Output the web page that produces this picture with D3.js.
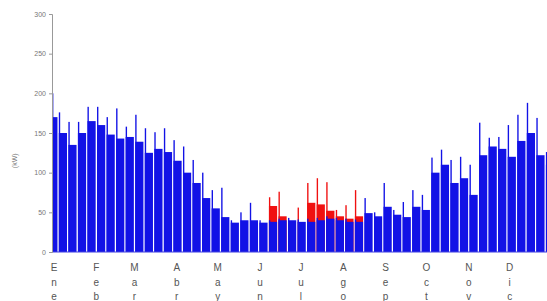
<!DOCTYPE html>
<html>
<head>
<meta charset="utf-8">
<script src="https://cdn.jsdelivr.net/npm/d3@7"></script>
<style>
  body { margin: 0; background: #fff; }
  svg { display: block; }
</style>
</head>
<body>
<div id="chart"></div>
<script>
let width = 547;
let height = 301;
let margins = { top: 14, right: -3, bottom: 49, left: 52 };

// weekly blocks Mon..Sat (Sunday is a gap), week 0 starts Mon 30 Dec
let weekPeak = [200, 176, 164, 164, 183, 183, 170, 181, 158, 173, 156, 151, 156, 141,
    133, 116, 100, 78, 81, 40, 50, 62, 40, 40, 42, 43, 41, 42, 43, 45, 43, 42, 41,
    68, 50, 87, 53, 63, 78, 72, 119, 129, 116, 120, 110, 163, 144, 145, 160, 173, 188, 169, 126];
let weekBody = [170, 150, 135, 150, 165, 160, 148, 143, 145, 139, 125, 130, 126, 115,
    100, 87, 68, 55, 44, 37, 40, 40, 37, 38, 40, 40, 38, 38, 40, 42, 40, 38, 38,
    49, 45, 57, 47, 44, 57, 53, 100, 110, 87, 93, 72, 122, 133, 130, 120, 140, 150, 122, 110];
// summer extra load (red)
let redPeak = [0, 0, 0, 0, 0, 0, 0, 0, 0, 0, 0, 0, 0, 0, 0, 0, 0, 0, 0, 0, 0, 0, 0,
    69, 76, 0, 56, 87, 93, 88, 53, 59, 78, 0, 0, 0, 0, 0, 0, 0, 0, 0, 0, 0, 0, 0, 0, 0, 0, 0, 0, 0, 0];
let redBody = [0, 0, 0, 0, 0, 0, 0, 0, 0, 0, 0, 0, 0, 0, 0, 0, 0, 0, 0, 0, 0, 0, 0,
    58, 45, 0, 0, 62, 60, 52, 45, 42, 45, 0, 0, 0, 0, 0, 0, 0, 0, 0, 0, 0, 0, 0, 0, 0, 0, 0, 0, 0, 0];
let months = ["Ene", "Feb", "Mar", "Abr", "May", "Jun", "Jul", "Ago", "Sep", "Oct", "Nov", "Dic"];
let yTicks = [0, 50, 100, 150, 200, 250, 300];

let start = new Date(2014, 0, 1);
let end = new Date(2015, 0, 1);
let firstMonday = new Date(2013, 11, 30);

let svg = d3.select("#chart")
    .append('svg')
    .attr('width', width)
    .attr('height', height);

var x = d3.scaleTime()
    .domain([start, end])
    .range([margins.left, width - margins.right]);
var y = d3.scaleLinear()
    .domain([0, 300])
    .range([height - margins.bottom, margins.top]);

let weeks = weekPeak.map((p, i) => {
    let mon = d3.timeDay.offset(firstMonday, 7 * i);
    let sun = d3.timeDay.offset(mon, 6);
    let s = mon < start ? start : mon;
    let e = sun > end ? end : sun;
    return { s: s, e: e, peak: p, body: weekBody[i], rPeak: redPeak[i], rBody: redBody[i] };
});

let plot = svg.append('g').attr('class', 'bars');

function drawBlocks(cls, color, bodyKey, peakKey) {
    let g = plot.append('g').attr('class', cls);
    let w = weeks.filter(d => d[peakKey] > 0);
    g.selectAll('rect.body').data(w)
        .enter()
        .append('rect')
        .attr('class', 'body')
        .attr('x', d => x(d.s))
        .attr('width', d => Math.max(0, x(d.e) - x(d.s)))
        .attr('y', d => y(d[bodyKey]))
        .attr('height', d => y(0) - y(d[bodyKey]))
        .style('fill', color);
    g.selectAll('rect.peak').data(w)
        .enter()
        .append('rect')
        .attr('class', 'peak')
        .attr('x', d => x(d.s))
        .attr('width', d => x(d3.timeDay.offset(d.s, 1)) - x(d.s))
        .attr('y', d => y(d[peakKey]))
        .attr('height', d => y(0) - y(d[peakKey]))
        .style('fill', color);
}

drawBlocks('red', '#f01010', 'rBody', 'rPeak');
drawBlocks('blue', '#1212e6', 'body', 'peak');

// baseline
svg.append('line')
    .attr('x1', margins.left).attr('x2', width)
    .attr('y1', y(0)).attr('y2', y(0))
    .style('stroke', '#4040e0')
    .style('stroke-width', 1);

// y axis
let yAxis = svg.append('g')
    .attr('class', 'yaxis axis')
    .attr('transform', 'translate(' + margins.left + ',0)')
    .call(d3.axisLeft(y).tickValues(yTicks).tickSize(3).tickPadding(3));
yAxis.select('.domain').style('stroke', '#999');
yAxis.selectAll('.tick line').style('stroke', '#999');
yAxis.selectAll('.tick text')
    .style('font-family', 'Arial, "Liberation Sans", sans-serif')
    .style('font-size', '7px')
    .style('fill', '#777');

svg.append('text')
    .attr('transform', 'translate(17,' + y(115) + ') rotate(-90)')
    .attr('text-anchor', 'middle')
    .style('font-family', 'Arial, "Liberation Sans", sans-serif')
    .style('font-size', '7px')
    .style('fill', '#777')
    .text('(kW)');

// month labels, one letter per line
let monthStarts = d3.timeMonth.range(start, end);
let labels = svg.append('g').attr('class', 'months')
    .selectAll('text')
    .data(months)
    .enter()
    .append('text')
    .attr('x', (d, i) => x(monthStarts[i]) + 2)
    .attr('y', y(0) + 19)
    .attr('text-anchor', 'middle')
    .style('font-family', 'Arial, "Liberation Sans", sans-serif')
    .style('font-size', '10px')
    .style('fill', '#555');
labels.each(function (d) {
    let t = d3.select(this);
    d.split('').forEach((ch, k) => {
        t.append('tspan')
            .attr('x', t.attr('x'))
            .attr('dy', k === 0 ? 0 : 14.5)
            .text(ch);
    });
});
</script>
</body>
</html>
